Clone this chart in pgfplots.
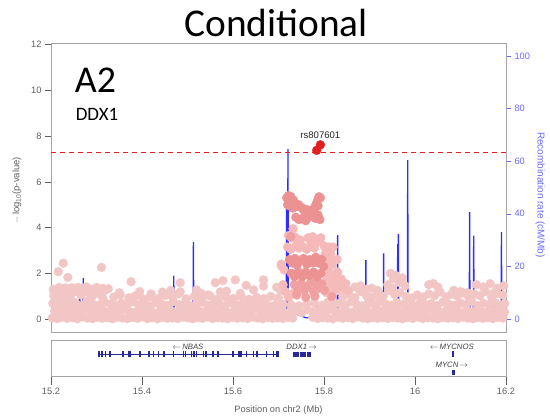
\documentclass[border=0pt]{standalone}
\usepackage{pgfplots}
\pgfplotsset{compat=1.18}
\usepackage{fontspec}
\setmainfont{Liberation Sans}
\newfontfamily\calibri{Carlito}

\definecolor{bgpink}{RGB}{243,198,198}
\definecolor{ltpink}{RGB}{245,185,185}
\definecolor{midsal}{RGB}{240,160,160}
\definecolor{darksal}{RGB}{237,146,146}
\definecolor{hitred}{RGB}{228,30,30}
\definecolor{recblue}{RGB}{45,45,255}
\definecolor{axblue}{RGB}{105,105,255}
\definecolor{axgray}{RGB}{95,95,95}
\definecolor{framegray}{RGB}{165,165,165}
\definecolor{genenavy}{RGB}{40,40,150}

\newcommand{\fs}[1]{\fontsize{#1}{#1}\selectfont}

\begin{document}
\begin{tikzpicture}
\useasboundingbox (0,0) rectangle (550bp,-417bp);
\node[font=\calibri\fs{39.5}, anchor=base] at (276bp,-36bp) {Conditional};

% recombination rate, right-hand scale
\begin{axis}[
  at={(51bp,-332bp)}, anchor=south west, scale only axis,
  width=455bp, height=289bp,
  xmin=15.2, xmax=16.2, ymin=-4.94, ymax=104.94,
  axis x line=none, axis y line*=right,
  y axis line style={draw=none},
  ytick={0,20,40,60,80,100},
  tick align=outside, major tick length=5bp,
  ytick style={axblue, line width=0.6bp},
  /pgf/number format/assume math mode=true,
  yticklabel style={font=\fs{9.3}, text=axblue},
  ylabel={Recombination rate (cM/Mb)},
  ylabel style={font=\fs{10}, text=axblue, at={(axis description cs:1.075,0.474)}, anchor=center, rotate=180},
]
\addplot[recblue, line width=1.3bp] coordinates {
(15.200,0.5) (15.2625,0.5) (15.2633,13.3) (15.2641,0.8) (15.2700,0.6) (15.2708,15.6) (15.2716,0.5)
(15.4690,0.5) (15.4698,16.5) (15.4706,0.6) (15.4940,0.5) (15.4946,2.6) (15.4952,0.5)
(15.5122,0.5) (15.5130,29.2) (15.5138,0.6) (15.5170,0.5) (15.5174,2.2) (15.5178,0.5)
(15.7170,0.5) (15.7178,42.0) (15.7186,5.0) (15.7200,5.0) (15.7208,64.6) (15.7216,3.0)
(15.7600,0.5) (15.7835,0.5) (15.7842,5.0) (15.7850,0.5)
(15.8292,0.5) (15.8300,31.9) (15.8308,0.6) (15.8912,0.5) (15.8920,22.4) (15.8928,0.6)
(15.9302,0.5) (15.9310,25.0) (15.9318,0.6) (15.9612,0.5) (15.9620,28.5) (15.9628,2.0)
(15.9634,32.3) (15.9642,0.6) (15.9832,0.5) (15.9840,60.4) (15.9848,0.6)
(16.0480,0.5) (16.0484,3.0) (16.0488,0.5) (16.1192,0.5) (16.1200,40.6) (16.1208,2.0)
(16.1282,0.6) (16.1290,31.7) (16.1298,0.6) (16.1680,0.5) (16.1684,8.0) (16.1688,0.5)
(16.1740,0.5) (16.1744,7.0) (16.1748,0.5) (16.1892,0.5) (16.1900,33.0) (16.1908,0.6)
(16.200,0.5)
};
\end{axis}

% association results, left-hand scale
\begin{axis}[
  at={(51bp,-332bp)}, anchor=south west, scale only axis,
  width=455bp, height=289bp,
  xmin=15.2, xmax=16.2, ymin=-0.569, ymax=12.075,
  xtick=\empty, ytick={0,2,4,6,8,10,12}, ytick pos=left,
  tick align=outside, major tick length=6bp,
  axis line style={framegray, line width=0.8bp},
  ytick style={axgray, line width=0.6bp},
  /pgf/number format/assume math mode=true,
  yticklabel style={font=\fs{9.3}, text=axgray},
  ylabel={$-$\,log\textsubscript{10}(p-value)},
  ylabel style={font=\fs{9.5}, text=axgray, at={(axis description cs:-0.075,0.49)}, anchor=center},
]
\addplot[hitred, line width=1.1bp, dash pattern=on 5bp off 4bp] coordinates {(15.2,7.3) (16.2,7.3)};

% background SNPs
\addplot[only marks, mark=*, mark size=4.4bp, color=bgpink] coordinates {
(15.203,0.05) (15.214,0.02) (15.225,0.08) (15.236,0.03) (15.247,0.06) (15.258,0.01) (15.269,0.09) (15.280,0.04) (15.291,0.02) (15.302,0.07)
(15.313,0.03) (15.324,0.05) (15.335,0.01) (15.346,0.08) (15.357,0.04) (15.368,0.02) (15.379,0.06) (15.390,0.03) (15.401,0.09) (15.412,0.02)
(15.423,0.05) (15.434,0.01) (15.445,0.07) (15.456,0.03) (15.467,0.04) (15.478,0.02) (15.489,0.08) (15.500,0.05) (15.511,0.01) (15.522,0.06)
(15.533,0.03) (15.544,0.09) (15.555,0.02) (15.566,0.05) (15.577,0.04) (15.588,0.01) (15.599,0.07) (15.610,0.03) (15.621,0.05) (15.632,0.02)
(15.643,0.08) (15.654,0.04) (15.665,0.01) (15.676,0.06) (15.687,0.03) (15.698,0.05) (15.709,0.02) (15.720,0.07) (15.731,0.04)
(15.775,0.08) (15.786,0.02) (15.797,0.06) (15.808,0.04) (15.819,0.01) (15.830,0.07) (15.841,0.03) (15.852,0.05)
(15.863,0.02) (15.874,0.09) (15.885,0.04) (15.896,0.01) (15.907,0.06) (15.918,0.03) (15.929,0.05) (15.940,0.02) (15.951,0.07) (15.962,0.04)
(15.973,0.01) (15.984,0.06) (15.995,0.03) (16.006,0.08) (16.017,0.02) (16.028,0.05) (16.039,0.04) (16.050,0.01) (16.061,0.07) (16.072,0.03)
(16.083,0.05) (16.094,0.02) (16.105,0.08) (16.116,0.04) (16.127,0.01) (16.138,0.06) (16.149,0.03) (16.160,0.05) (16.171,0.02) (16.182,0.07) (16.193,0.04)
(15.208,0.35) (15.219,0.28) (15.231,0.41) (15.243,0.30) (15.254,0.38) (15.266,0.26) (15.278,0.44) (15.289,0.33) (15.301,0.29) (15.313,0.40)
(15.324,0.31) (15.336,0.36) (15.348,0.27) (15.359,0.42) (15.371,0.34) (15.383,0.29) (15.394,0.39) (15.406,0.32) (15.418,0.37) (15.429,0.25)
(15.441,0.43) (15.453,0.31) (15.464,0.36) (15.476,0.28) (15.488,0.40) (15.499,0.33) (15.511,0.27) (15.523,0.38) (15.534,0.30) (15.546,0.42)
(15.558,0.34) (15.569,0.29) (15.581,0.37) (15.593,0.26) (15.604,0.41) (15.616,0.32) (15.628,0.35) (15.639,0.28) (15.651,0.44) (15.663,0.31)
(15.674,0.37) (15.686,0.27) (15.698,0.39) (15.709,0.33) (15.724,0.30) (15.738,0.36) (15.751,0.28) (15.763,0.41) (15.776,0.33) (15.789,0.38)
(15.801,0.29) (15.813,0.42) (15.824,0.35) (15.836,0.30) (15.848,0.39) (15.859,0.27) (15.871,0.43) (15.883,0.32) (15.894,0.36) (15.906,0.28)
(15.918,0.40) (15.929,0.33) (15.941,0.37) (15.953,0.29) (15.964,0.41) (15.976,0.31) (15.988,0.35) (15.999,0.26) (16.011,0.38) (16.023,0.30)
(16.034,0.42) (16.046,0.34) (16.058,0.28) (16.069,0.37) (16.081,0.31) (16.093,0.40) (16.104,0.27) (16.116,0.36) (16.128,0.32) (16.139,0.43)
(16.151,0.29) (16.163,0.38) (16.174,0.33) (16.186,0.41) (16.197,0.30)
(15.204,0.68) (15.216,0.60) (15.229,0.74) (15.241,0.63) (15.254,0.71) (15.267,0.58) (15.279,0.77) (15.292,0.65) (15.305,0.61) (15.317,0.73)
(15.330,0.66) (15.343,0.59) (15.355,0.70) (15.368,0.64) (15.381,0.75) (15.393,0.62) (15.406,0.69) (15.419,0.57) (15.431,0.72) (15.444,0.65)
(15.457,0.60) (15.469,0.76) (15.482,0.63) (15.495,0.70) (15.507,0.58) (15.520,0.67) (15.533,0.73) (15.545,0.61) (15.558,0.69) (15.571,0.64)
(15.583,0.57) (15.596,0.71) (15.609,0.62) (15.621,0.66) (15.634,0.59) (15.647,0.74) (15.659,0.63) (15.672,0.68) (15.685,0.56) (15.697,0.70)
(15.710,0.64) (15.728,0.62) (15.745,0.58) (15.762,0.66) (15.779,0.71) (15.796,0.60) (15.808,0.73) (15.821,0.65) (15.834,0.69) (15.846,0.61)
(15.859,0.75) (15.872,0.64) (15.884,0.58) (15.897,0.70) (15.910,0.63) (15.922,0.76) (15.935,0.66) (15.948,0.60) (15.960,0.72) (15.973,0.64)
(15.986,0.69) (15.998,0.57) (16.011,0.71) (16.024,0.62) (16.036,0.67) (16.049,0.59) (16.062,0.74) (16.074,0.65) (16.087,0.61) (16.100,0.70)
(16.112,0.63) (16.125,0.76) (16.138,0.58) (16.150,0.69) (16.163,0.64) (16.176,0.72) (16.188,0.60) (16.197,0.67)
(15.206,1.02) (15.218,0.92) (15.230,1.10) (15.242,0.95) (15.254,1.35) (15.266,1.05) (15.278,1.40) (15.290,0.98) (15.302,1.12) (15.314,0.90)
(15.326,1.32) (15.338,0.96) (15.352,1.06) (15.371,0.93) (15.385,1.01) (15.402,0.88) (15.418,0.97) (15.437,0.91) (15.452,1.03) (15.468,0.94)
(15.480,1.10) (15.497,0.89) (15.515,0.99) (15.531,0.92) (15.549,1.02) (15.566,0.87) (15.584,0.95) (15.601,0.90) (15.618,1.00) (15.635,0.86)
(15.652,0.94) (15.668,0.89) (15.683,0.99) (15.700,0.92)
(15.805,1.15) (15.818,1.05) (15.830,1.25) (15.842,0.98) (15.855,1.10) (15.868,0.93) (15.880,1.20) (15.893,1.02) (15.905,0.95) (15.918,1.12)
(15.930,0.99) (15.942,1.25) (15.955,1.08) (15.967,1.15) (15.980,1.00) (15.993,0.92) (16.005,1.05) (16.018,0.96) (16.030,1.10) (16.043,1.02)
(16.055,1.18) (16.068,0.97) (16.080,1.08) (16.093,1.00) (16.105,1.14) (16.118,0.95) (16.130,1.09) (16.143,1.02) (16.155,1.20) (16.168,0.98)
(16.180,1.12) (16.193,1.05)
(15.205,1.30) (15.218,1.38) (15.232,1.36) (15.246,1.37) (15.260,1.38) (15.274,1.35) (15.288,1.30) (15.300,1.38) (15.222,1.20) (15.250,1.18)
(15.283,1.15) (15.318,1.25) (15.240,1.30)
(15.227,2.44) (15.216,2.07) (15.237,1.82) (15.311,2.26) (15.314,1.34) (15.376,1.63) (15.484,1.59) (15.484,1.19) (15.520,1.27) (15.561,1.59)
(15.578,1.68) (15.605,1.71) (15.629,1.47) (15.667,1.71) (15.706,2.32) (15.667,1.44) (15.645,1.27) (15.616,1.12) (15.586,1.22) (15.572,1.19)
(15.704,1.27) (15.696,1.39) (15.350,1.15) (15.395,1.20) (15.420,1.10) (15.445,1.18) (15.463,1.25) (15.530,1.12) (15.545,1.05)
(15.940,1.50) (15.946,2.00) (15.952,1.75) (15.958,1.90) (15.965,1.60) (15.972,1.80) (15.978,1.45) (15.950,1.35)
(16.030,1.50) (16.040,1.55) (16.050,1.40) (15.868,1.40) (15.880,1.45) (15.893,1.30) (15.905,1.35) (15.918,1.25)
(16.085,1.25) (16.100,1.20) (16.115,1.15) (16.135,1.50) (16.150,1.40) (16.165,1.55) (16.180,1.35) (16.195,1.45) (16.173,1.12)
};

% SNPs just right of the lead signal
\addplot[only marks, mark=*, mark size=4.4bp, color=ltpink!85!bgpink] coordinates {
(15.801,1.50) (15.806,1.85) (15.809,2.20) (15.813,2.55) (15.818,2.35) (15.822,1.95) (15.826,1.65) (15.830,2.05) (15.834,1.45) (15.838,1.75)
(15.843,1.35) (15.848,1.55) (15.853,1.25) (15.811,1.30) (15.817,1.60) (15.824,1.30) (15.829,2.60) (15.815,2.85) (15.807,2.95) (15.820,3.15)
(15.706,2.40) (15.712,2.15) (15.710,1.50) (15.715,1.20) (15.722,0.95) (15.730,1.10)
};

% SNPs in LD with the lead variant
\addplot[only marks, mark=*, mark size=4.4bp, color=ltpink] coordinates {
(15.732,3.95) (15.722,3.65) (15.728,3.55) (15.735,3.60) (15.742,3.50) (15.748,3.45) (15.765,3.55) (15.770,3.45) (15.775,3.60) (15.780,3.50)
(15.787,3.40) (15.793,3.55) (15.800,3.20) (15.805,3.05) (15.810,2.95) (15.802,2.80) (15.812,3.15)
(15.720,3.15) (15.727,3.05) (15.738,3.20) (15.745,3.10) (15.755,3.15) (15.762,3.05) (15.772,3.20) (15.779,3.10)
};
\addplot[only marks, mark=*, mark size=4.4bp, color=midsal] coordinates {
(15.735,1.50) (15.742,1.30) (15.750,1.55) (15.757,1.25) (15.764,1.45) (15.771,1.60) (15.777,1.20) (15.783,1.50) (15.789,1.35) (15.795,1.55)
(15.801,1.25) (15.740,1.05) (15.760,0.95) (15.780,1.00) (15.817,0.98) (15.727,3.60)
};
\addplot[only marks, mark=*, mark size=4.4bp, color=darksal] coordinates {
(15.718,5.30) (15.722,5.40) (15.726,5.25) (15.729,5.10) (15.733,5.20) (15.737,5.05) (15.740,4.95) (15.744,5.00) (15.748,4.90) (15.752,4.85)
(15.756,4.75) (15.760,4.80) (15.764,4.70) (15.768,4.75) (15.772,4.65) (15.776,4.80) (15.780,4.90) (15.783,5.05) (15.786,5.20) (15.789,5.35)
(15.792,5.30) (15.787,4.95) (15.720,5.00) (15.724,4.95) (15.731,4.85) (15.727,5.35) (15.735,4.90)
(15.738,4.45) (15.745,4.35) (15.752,4.40) (15.760,4.30) (15.767,4.45) (15.775,4.55) (15.781,4.40) (15.787,4.55) (15.791,4.35)
(15.724,2.60) (15.730,2.45) (15.736,2.65) (15.741,2.35) (15.748,2.55) (15.755,2.65) (15.762,2.40) (15.769,2.60) (15.776,2.45)
(15.782,2.70) (15.788,2.45) (15.795,2.60) (15.799,2.30)
(15.728,2.00) (15.735,1.85) (15.743,2.05) (15.752,1.85) (15.760,2.05) (15.768,1.90) (15.777,2.05) (15.785,1.85) (15.793,2.00)
};

% lead variant
\addplot[only marks, mark=*, mark size=4.4bp, color=hitred] coordinates {(15.784,7.38) (15.792,7.62)};
\node[font=\fs{9.6}, text=black!85] at (axis cs:15.792,8.02) {rs807601};

\node[font=\calibri\fs{38}, anchor=base west, inner sep=0pt] at (axis cs:15.2520,9.90) {A2};
\node[font=\calibri\fs{19}, anchor=base west, inner sep=0pt] at (axis cs:15.2540,8.70) {DDX1};
\end{axis}

% gene track
\begin{axis}[
  at={(51bp,-376bp)}, anchor=south west, scale only axis,
  width=455bp, height=36bp,
  xmin=15.2, xmax=16.2, ymin=0, ymax=1,
  ytick=\empty, xtick={15.2,15.4,15.6,15.8,16.0,16.2},
  xticklabels={15.2,15.4,15.6,15.8,16,16.2},
  xtick pos=bottom, tick align=outside, major tick length=9bp,
  axis line style={framegray, line width=0.8bp},
  xtick style={axgray, line width=0.6bp},
  xticklabel style={font=\fs{9.3}, text=axgray},
  xlabel={Position on chr2 (Mb)},
  xlabel style={font=\fs{9.3}, text=axgray, at={(axis description cs:0.5,-0.944)}, anchor=center},
  unbounded coords=jump, clip=false,
]
\addplot[genenavy, line width=0.8bp] coordinates {(15.305,0.61) (15.700,0.61)};
\addplot[only marks, mark=|, mark size=2.8bp, color=genenavy, mark options={line width=1.6bp}] coordinates {
(15.306,0.61) (15.3115,0.61) (15.320,0.61) (15.330,0.61) (15.358,0.61) (15.372,0.61) (15.375,0.61) (15.396,0.61) (15.4155,0.61) (15.425,0.61)
(15.436,0.61) (15.4485,0.61) (15.469,0.61) (15.491,0.61) (15.496,0.61) (15.509,0.61) (15.5145,0.61) (15.520,0.61) (15.535,0.61) (15.540,0.61)
(15.5555,0.61) (15.566,0.61) (15.568,0.61) (15.5995,0.61) (15.612,0.61) (15.6155,0.61) (15.619,0.61) (15.630,0.61) (15.645,0.61) (15.6525,0.61)
(15.674,0.61) (15.689,0.61) (15.6965,0.61) (15.700,0.61) (16.083,0.61)
};
\addplot[genenavy, line width=5bp] coordinates {
(15.7325,0.61) (15.7450,0.61) (15.7460,nan) (15.7475,0.61) (15.7600,0.61) (15.7610,nan) (15.7620,0.61) (15.7715,0.61)
};
\addplot[genenavy, line width=5bp] coordinates {(16.0815,0.11) (16.0875,0.11)};
\node[font=\fs{7.8}\itshape, text=black!75] at (axis cs:15.501,0.80) {$\leftarrow$\,NBAS};
\node[font=\fs{7.8}\itshape, text=black!75] at (axis cs:15.751,0.80) {DDX1\,$\rightarrow$};
\node[font=\fs{7.8}\itshape, text=black!75] at (axis cs:16.081,0.80) {$\leftarrow$\,MYCNOS};
\node[font=\fs{7.8}\itshape, text=black!75] at (axis cs:16.081,0.31) {MYCN\,$\rightarrow$};
\end{axis}
\end{tikzpicture}
\end{document}
